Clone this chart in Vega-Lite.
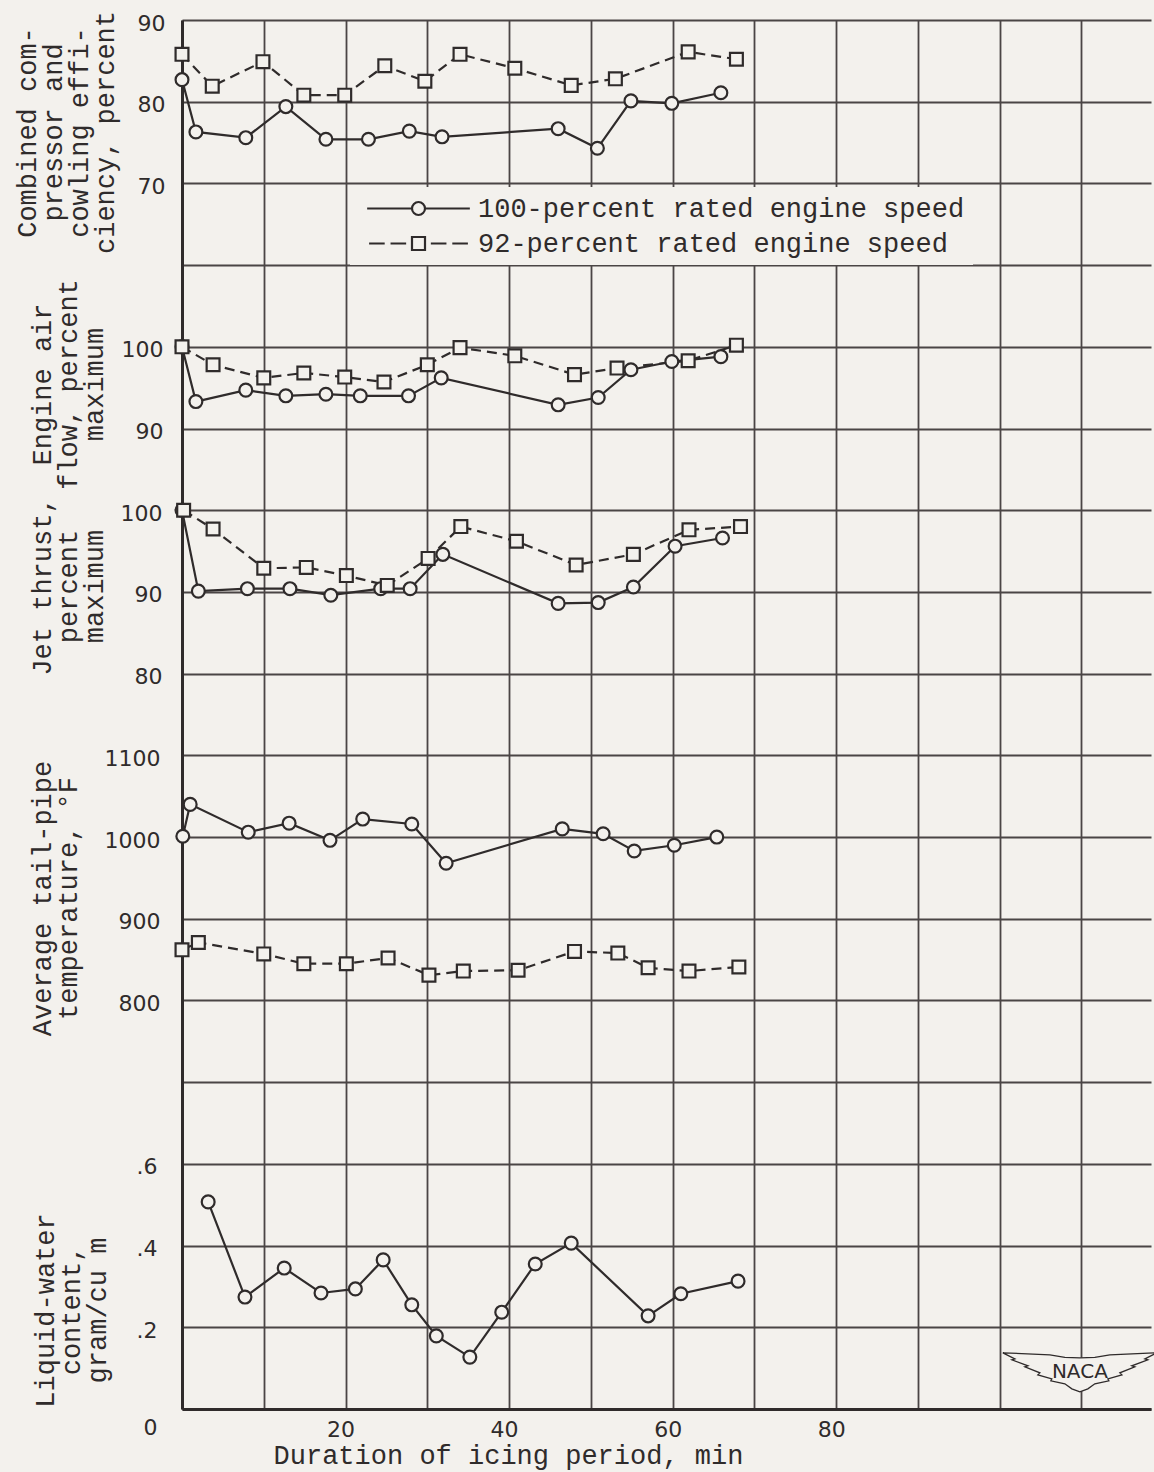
{
  "$schema": "https://vega.github.io/schema/vega-lite/v6.json",
  "autosize": {"type": "none"},
  "padding": {"left": 182, "top": 20, "right": 3, "bottom": 63},
  "width": 969,
  "height": 1389,
  "background": "#f3f1ed",
  "config": {
    "font": "Liberation Mono",
    "view": {"stroke": null},
    "legend": {"symbolStrokeWidth": 2.2},
    "axis": {
      "labelFont": "DejaVu Sans", "labelFontSize": 22, "labelColor": "#2f2b2b",
      "titleFont": "Liberation Mono", "titleFontSize": 27, "titleFontWeight": "normal",
      "titleColor": "#2f2b2b", "titleLineHeight": 26,
      "ticks": false, "domain": false, "grid": false,
      "labelOverlap": false, "labelFlush": false,
      "gridColor": "#4a4545", "gridWidth": 1.8, "gridOpacity": 1
    }
  },
  "datasets": {
    "eff": [
      {"t": 0, "v": 82.7, "s": "100-percent rated engine speed"},
      {"t": 1.7, "v": 76.3, "s": "100-percent rated engine speed"},
      {"t": 7.8, "v": 75.6, "s": "100-percent rated engine speed"},
      {"t": 12.7, "v": 79.4, "s": "100-percent rated engine speed"},
      {"t": 17.6, "v": 75.4, "s": "100-percent rated engine speed"},
      {"t": 22.8, "v": 75.4, "s": "100-percent rated engine speed"},
      {"t": 27.8, "v": 76.4, "s": "100-percent rated engine speed"},
      {"t": 31.8, "v": 75.7, "s": "100-percent rated engine speed"},
      {"t": 46, "v": 76.7, "s": "100-percent rated engine speed"},
      {"t": 50.8, "v": 74.3, "s": "100-percent rated engine speed"},
      {"t": 54.9, "v": 80.1, "s": "100-percent rated engine speed"},
      {"t": 59.9, "v": 79.8, "s": "100-percent rated engine speed"},
      {"t": 65.9, "v": 81.1, "s": "100-percent rated engine speed"},
      {"t": 0, "v": 85.8, "s": "92-percent rated engine speed"},
      {"t": 3.7, "v": 81.9, "s": "92-percent rated engine speed"},
      {"t": 9.9, "v": 84.9, "s": "92-percent rated engine speed"},
      {"t": 14.9, "v": 80.8, "s": "92-percent rated engine speed"},
      {"t": 19.9, "v": 80.8, "s": "92-percent rated engine speed"},
      {"t": 24.8, "v": 84.4, "s": "92-percent rated engine speed"},
      {"t": 29.7, "v": 82.5, "s": "92-percent rated engine speed"},
      {"t": 34, "v": 85.8, "s": "92-percent rated engine speed"},
      {"t": 40.7, "v": 84.1, "s": "92-percent rated engine speed"},
      {"t": 47.6, "v": 82.0, "s": "92-percent rated engine speed"},
      {"t": 53, "v": 82.8, "s": "92-percent rated engine speed"},
      {"t": 61.9, "v": 86.1, "s": "92-percent rated engine speed"},
      {"t": 67.8, "v": 85.2, "s": "92-percent rated engine speed"}
    ],
    "air": [
      {"t": 0, "v": 100, "s": "100-percent rated engine speed"},
      {"t": 1.7, "v": 93.3, "s": "100-percent rated engine speed"},
      {"t": 7.8, "v": 94.7, "s": "100-percent rated engine speed"},
      {"t": 12.7, "v": 94.0, "s": "100-percent rated engine speed"},
      {"t": 17.6, "v": 94.2, "s": "100-percent rated engine speed"},
      {"t": 21.8, "v": 94.0, "s": "100-percent rated engine speed"},
      {"t": 27.7, "v": 94.0, "s": "100-percent rated engine speed"},
      {"t": 31.7, "v": 96.2, "s": "100-percent rated engine speed"},
      {"t": 46, "v": 92.9, "s": "100-percent rated engine speed"},
      {"t": 50.9, "v": 93.8, "s": "100-percent rated engine speed"},
      {"t": 54.9, "v": 97.2, "s": "100-percent rated engine speed"},
      {"t": 59.9, "v": 98.2, "s": "100-percent rated engine speed"},
      {"t": 65.9, "v": 98.8, "s": "100-percent rated engine speed"},
      {"t": 0, "v": 100, "s": "92-percent rated engine speed"},
      {"t": 3.8, "v": 97.8, "s": "92-percent rated engine speed"},
      {"t": 10, "v": 96.2, "s": "92-percent rated engine speed"},
      {"t": 14.9, "v": 96.8, "s": "92-percent rated engine speed"},
      {"t": 19.9, "v": 96.3, "s": "92-percent rated engine speed"},
      {"t": 24.7, "v": 95.7, "s": "92-percent rated engine speed"},
      {"t": 30, "v": 97.8, "s": "92-percent rated engine speed"},
      {"t": 34, "v": 99.9, "s": "92-percent rated engine speed"},
      {"t": 40.7, "v": 98.9, "s": "92-percent rated engine speed"},
      {"t": 48, "v": 96.6, "s": "92-percent rated engine speed"},
      {"t": 53.2, "v": 97.4, "s": "92-percent rated engine speed"},
      {"t": 61.9, "v": 98.3, "s": "92-percent rated engine speed"},
      {"t": 67.8, "v": 100.2, "s": "92-percent rated engine speed"}
    ],
    "thrust": [
      {"t": 0, "v": 100, "s": "100-percent rated engine speed"},
      {"t": 2, "v": 90.1, "s": "100-percent rated engine speed"},
      {"t": 8, "v": 90.4, "s": "100-percent rated engine speed"},
      {"t": 13.2, "v": 90.4, "s": "100-percent rated engine speed"},
      {"t": 18.2, "v": 89.6, "s": "100-percent rated engine speed"},
      {"t": 24.3, "v": 90.4, "s": "100-percent rated engine speed"},
      {"t": 27.9, "v": 90.4, "s": "100-percent rated engine speed"},
      {"t": 31.9, "v": 94.6, "s": "100-percent rated engine speed"},
      {"t": 46, "v": 88.6, "s": "100-percent rated engine speed"},
      {"t": 50.9, "v": 88.7, "s": "100-percent rated engine speed"},
      {"t": 55.2, "v": 90.6, "s": "100-percent rated engine speed"},
      {"t": 60.3, "v": 95.6, "s": "100-percent rated engine speed"},
      {"t": 66.1, "v": 96.6, "s": "100-percent rated engine speed"},
      {"t": 0.2, "v": 100, "s": "92-percent rated engine speed"},
      {"t": 3.8, "v": 97.7, "s": "92-percent rated engine speed"},
      {"t": 10, "v": 92.9, "s": "92-percent rated engine speed"},
      {"t": 15.2, "v": 93.0, "s": "92-percent rated engine speed"},
      {"t": 20.1, "v": 92.0, "s": "92-percent rated engine speed"},
      {"t": 25.1, "v": 90.8, "s": "92-percent rated engine speed"},
      {"t": 30.1, "v": 94.1, "s": "92-percent rated engine speed"},
      {"t": 34.1, "v": 98.0, "s": "92-percent rated engine speed"},
      {"t": 40.9, "v": 96.2, "s": "92-percent rated engine speed"},
      {"t": 48.2, "v": 93.3, "s": "92-percent rated engine speed"},
      {"t": 55.2, "v": 94.6, "s": "92-percent rated engine speed"},
      {"t": 62, "v": 97.6, "s": "92-percent rated engine speed"},
      {"t": 68.3, "v": 98.0, "s": "92-percent rated engine speed"}
    ],
    "temp": [
      {"t": 0.1, "v": 1001, "s": "100-percent rated engine speed"},
      {"t": 1, "v": 1040, "s": "100-percent rated engine speed"},
      {"t": 8.1, "v": 1006, "s": "100-percent rated engine speed"},
      {"t": 13.1, "v": 1017, "s": "100-percent rated engine speed"},
      {"t": 18.1, "v": 996, "s": "100-percent rated engine speed"},
      {"t": 22.1, "v": 1022, "s": "100-percent rated engine speed"},
      {"t": 28.1, "v": 1016, "s": "100-percent rated engine speed"},
      {"t": 32.3, "v": 968, "s": "100-percent rated engine speed"},
      {"t": 46.5, "v": 1010, "s": "100-percent rated engine speed"},
      {"t": 51.5, "v": 1004, "s": "100-percent rated engine speed"},
      {"t": 55.3, "v": 983, "s": "100-percent rated engine speed"},
      {"t": 60.2, "v": 990, "s": "100-percent rated engine speed"},
      {"t": 65.4, "v": 1000, "s": "100-percent rated engine speed"},
      {"t": 0, "v": 862, "s": "92-percent rated engine speed"},
      {"t": 2, "v": 871, "s": "92-percent rated engine speed"},
      {"t": 10, "v": 857, "s": "92-percent rated engine speed"},
      {"t": 14.9, "v": 845, "s": "92-percent rated engine speed"},
      {"t": 20.1, "v": 845, "s": "92-percent rated engine speed"},
      {"t": 25.2, "v": 852, "s": "92-percent rated engine speed"},
      {"t": 30.2, "v": 831, "s": "92-percent rated engine speed"},
      {"t": 34.4, "v": 836, "s": "92-percent rated engine speed"},
      {"t": 41.1, "v": 837, "s": "92-percent rated engine speed"},
      {"t": 48, "v": 860, "s": "92-percent rated engine speed"},
      {"t": 53.3, "v": 858, "s": "92-percent rated engine speed"},
      {"t": 57, "v": 840, "s": "92-percent rated engine speed"},
      {"t": 62, "v": 836, "s": "92-percent rated engine speed"},
      {"t": 68.1, "v": 841, "s": "92-percent rated engine speed"}
    ],
    "water": [
      {"t": 3.2, "v": 0.507},
      {"t": 7.7, "v": 0.274},
      {"t": 12.5, "v": 0.345},
      {"t": 17, "v": 0.284},
      {"t": 21.2, "v": 0.294},
      {"t": 24.6, "v": 0.365},
      {"t": 28.1, "v": 0.255},
      {"t": 31.1, "v": 0.179},
      {"t": 35.2, "v": 0.127},
      {"t": 39.1, "v": 0.237},
      {"t": 43.2, "v": 0.355},
      {"t": 47.6, "v": 0.406},
      {"t": 57, "v": 0.228},
      {"t": 61, "v": 0.282},
      {"t": 68, "v": 0.313}
    ],
    "logo": [
      {"t": 109.8, "v": 0.091, "label": "NACA"}
    ]
  },
  "encoding": {
    "x": {
      "field": "t", "type": "quantitative",
      "scale": {"domain": [0, 118.5], "nice": false, "zero": false},
      "axis": {
        "values": [0, 10, 20, 30, 40, 50, 60, 70, 80, 90, 100, 110],
        "grid": true, "domain": true, "domainWidth": 3, "domainColor": "#2f2b2b",
        "labelExpr": "datum.value == 20 || datum.value == 40 || datum.value == 60 || datum.value == 80 ? datum.label : ''",
        "labelPadding": 10, "labelOffset": -5,
        "title": "Duration of icing period, min",
        "titleX": 326, "titleY": 54, "titleAlign": "center", "titleBaseline": "alphabetic"
      }
    }
  },
  "layer": [
    {
      "data": {"name": "water"},
      "encoding": {
        "y": {
          "field": "v", "type": "quantitative",
          "scale": {"domain": [0, 3.4], "nice": false, "zero": false},
          "axis": {
            "orient": "left",
            "values": [0, 0.2, 0.4, 0.6, 0.8, 1, 1.2, 1.4, 1.6, 1.8, 2, 2.2, 2.4, 2.6, 2.8, 3, 3.2, 3.4],
            "grid": true, "domain": true, "domainWidth": 3, "domainColor": "#2f2b2b",
            "labelExpr": "datum.value == 0 ? '0' : (datum.value < 0.65 ? '.' + round(datum.value * 10) : '')",
            "labelPadding": 25, "labelBaseline": "middle",
            "labelOffset": {"condition": {"test": "datum.value == 0", "value": 18}, "value": 3},
            "title": ["Liquid-water", "content,", "gram/cu m"],
            "titleX": -137, "titleY": 1290, "titleAngle": -90, "titleAlign": "center", "titleBaseline": "middle"
          }
        }
      },
      "layer": [
        {"mark": {"type": "line", "color": "#2f2b2b", "strokeWidth": 2.2}},
        {"mark": {"type": "point", "shape": "circle", "size": 165, "filled": true, "fill": "#f3f1ed", "stroke": "#2f2b2b", "strokeWidth": 2.2, "opacity": 1}},
        {
          "data": {"name": "logo"},
          "mark": {"type": "point", "shape": "M-7.7,-1.9L-3,-1.7L-1.5,-1.45L0,-1.4L1.5,-1.45L3,-1.7L7.7,-1.9L6.5,-1.3L6.8,-1.2L5.2,-0.6L5.5,-0.5L4,0.1L4.2,0.3L2.8,0.7L2.9,0.9L1.5,1.2L0.8,1.7L0,2L-0.8,1.7L-1.5,1.2L-2.9,0.9L-2.8,0.7L-4.2,0.3L-4,0.1L-5.5,-0.5L-5.2,-0.6L-6.8,-1.2L-6.5,-1.3Z", "size": 400, "filled": true, "fill": "#f3f1ed", "stroke": "#2f2b2b", "strokeWidth": 1.3, "opacity": 1}
        },
        {
          "data": {"name": "logo"},
          "mark": {"type": "text", "font": "DejaVu Sans", "fontSize": 20, "color": "#2f2b2b", "baseline": "middle", "align": "center"},
          "encoding": {"text": {"field": "label"}}
        }
      ]
    },
    {
      "data": {"name": "eff"},
      "encoding": {
        "y": {
          "field": "v", "type": "quantitative",
          "scale": {"domain": [-80, 90], "nice": false, "zero": false},
          "axis": {
            "orient": "left", "values": [70, 80, 90],
            "labelPadding": 17, "labelBaseline": "middle", "labelOffset": 3,
            "title": ["Combined com-", "pressor and", "cowling effi-", "ciency, percent"],
            "titleX": -155, "titleY": 112, "titleAngle": -90, "titleAlign": "center", "titleBaseline": "middle"
          }
        }
      },
      "layer": [
        {
          "transform": [{"filter": "datum.s == '100-percent rated engine speed'"}],
          "mark": {"type": "line", "color": "#2f2b2b", "strokeWidth": 2.2}
        },
        {
          "transform": [{"filter": "datum.s == '92-percent rated engine speed'"}],
          "mark": {"type": "line", "color": "#2f2b2b", "strokeWidth": 2.2, "strokeDash": [10, 6]}
        },
        {
          "mark": {"type": "point", "size": 165, "filled": true, "fill": "#f3f1ed", "stroke": "#2f2b2b", "strokeWidth": 2.2, "opacity": 1},
          "encoding": {
            "shape": {
              "field": "s", "type": "nominal",
              "scale": {"domain": ["100-percent rated engine speed", "92-percent rated engine speed"], "range": ["circle", "square"]},
              "legend": null
            }
          }
        },
        {
          "mark": {"type": "point", "size": 169, "filled": false, "color": "#2f2b2b", "stroke": "#2f2b2b", "strokeWidth": 2.2, "opacity": 0},
          "encoding": {
            "shape": {
              "field": "s", "type": "nominal",
              "scale": {
                "domain": ["100-percent rated engine speed", "92-percent rated engine speed"],
                "range": ["M-7.9,0L-1,0M1,0L7.9,0M1,0A1,1,0,1,1,-1,0A1,1,0,1,1,1,0Z", "M-7.6,0L-5.2,0M-4.3,0L-1.9,0M1.9,0L4.3,0M5.2,0L7.6,0M-1,-1L1,-1L1,1L-1,1Z"]
              },
              "legend": {
                "title": null, "orient": "none", "legendX": 168, "legendY": 167, "direction": "vertical",
                "padding": 8, "rowPadding": 7, "fillColor": "#f3f1ed",
                "symbolSize": 169, "symbolStrokeWidth": 2.2, "symbolStrokeColor": "#2f2b2b",
                "symbolOpacity": 1,
                "symbolOffset": 47, "labelOffset": 46,
                "labelFont": "Liberation Mono", "labelFontSize": 27, "labelColor": "#2f2b2b", "labelLimit": 800
              }
            }
          }
        }
      ],
      "resolve": {"scale": {"shape": "independent"}}
    },
    {
      "data": {"name": "air"},
      "encoding": {
        "y": {
          "field": "v", "type": "quantitative",
          "scale": {"domain": [-30, 140], "nice": false, "zero": false},
          "axis": {
            "orient": "left", "values": [90, 100],
            "labelPadding": 19, "labelBaseline": "middle", "labelOffset": 3,
            "title": ["Engine air", "flow, percent", "maximum"],
            "titleX": -140, "titleY": 364, "titleAngle": -90, "titleAlign": "center", "titleBaseline": "middle"
          }
        }
      },
      "layer": [
        {
          "transform": [{"filter": "datum.s == '100-percent rated engine speed'"}],
          "mark": {"type": "line", "color": "#2f2b2b", "strokeWidth": 2.2}
        },
        {
          "transform": [{"filter": "datum.s == '92-percent rated engine speed'"}],
          "mark": {"type": "line", "color": "#2f2b2b", "strokeWidth": 2.2, "strokeDash": [10, 6]}
        },
        {
          "mark": {"type": "point", "size": 165, "filled": true, "fill": "#f3f1ed", "stroke": "#2f2b2b", "strokeWidth": 2.2, "opacity": 1},
          "encoding": {"shape": {"field": "s", "type": "nominal", "scale": {"domain": ["100-percent rated engine speed", "92-percent rated engine speed"], "range": ["circle", "square"]}, "legend": null}}
        }
      ]
    },
    {
      "data": {"name": "thrust"},
      "encoding": {
        "y": {
          "field": "v", "type": "quantitative",
          "scale": {"domain": [-10, 160], "nice": false, "zero": false},
          "axis": {
            "orient": "left", "values": [80, 90, 100],
            "labelPadding": 20, "labelBaseline": "middle", "labelOffset": 3,
            "title": ["Jet thrust,", "percent", "maximum"],
            "titleX": -140, "titleY": 566, "titleAngle": -90, "titleAlign": "center", "titleBaseline": "middle"
          }
        }
      },
      "layer": [
        {
          "transform": [{"filter": "datum.s == '100-percent rated engine speed'"}],
          "mark": {"type": "line", "color": "#2f2b2b", "strokeWidth": 2.2}
        },
        {
          "transform": [{"filter": "datum.s == '92-percent rated engine speed'"}],
          "mark": {"type": "line", "color": "#2f2b2b", "strokeWidth": 2.2, "strokeDash": [10, 6]}
        },
        {
          "mark": {"type": "point", "size": 165, "filled": true, "fill": "#f3f1ed", "stroke": "#2f2b2b", "strokeWidth": 2.2, "opacity": 1},
          "encoding": {"shape": {"field": "s", "type": "nominal", "scale": {"domain": ["100-percent rated engine speed", "92-percent rated engine speed"], "range": ["circle", "square"]}, "legend": null}}
        }
      ]
    },
    {
      "data": {"name": "temp"},
      "encoding": {
        "y": {
          "field": "v", "type": "quantitative",
          "scale": {"domain": [300, 2000], "nice": false, "zero": false},
          "axis": {
            "orient": "left", "values": [800, 900, 1000, 1100], "format": "d",
            "labelPadding": 22, "labelBaseline": "middle", "labelOffset": 3,
            "title": ["Average tail-pipe", "temperature, °F"],
            "titleX": -140, "titleY": 878, "titleAngle": -90, "titleAlign": "center", "titleBaseline": "middle"
          }
        }
      },
      "layer": [
        {
          "transform": [{"filter": "datum.s == '100-percent rated engine speed'"}],
          "mark": {"type": "line", "color": "#2f2b2b", "strokeWidth": 2.2}
        },
        {
          "transform": [{"filter": "datum.s == '92-percent rated engine speed'"}],
          "mark": {"type": "line", "color": "#2f2b2b", "strokeWidth": 2.2, "strokeDash": [10, 6]}
        },
        {
          "mark": {"type": "point", "size": 165, "filled": true, "fill": "#f3f1ed", "stroke": "#2f2b2b", "strokeWidth": 2.2, "opacity": 1},
          "encoding": {"shape": {"field": "s", "type": "nominal", "scale": {"domain": ["100-percent rated engine speed", "92-percent rated engine speed"], "range": ["circle", "square"]}, "legend": null}}
        }
      ]
    }
  ],
  "resolve": {"scale": {"y": "independent", "shape": "independent"}, "axis": {"y": "independent"}}
}
